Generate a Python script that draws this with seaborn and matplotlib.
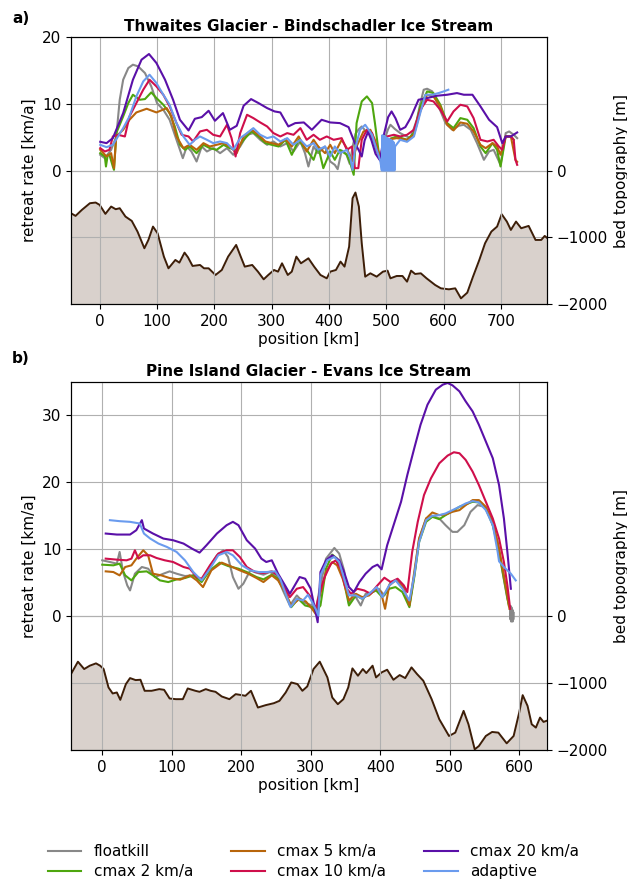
import matplotlib
matplotlib.use("Agg")
import matplotlib.pyplot as plt
import pandas as pd
import seaborn as sns
from matplotlib.lines import Line2D

# ---------------------------------------------------------------- runs
RUNS = ["floatkill", "cmax 2 km/a", "cmax 5 km/a", "cmax 10 km/a",
        "cmax 20 km/a", "adaptive"]
COLORS = ["#888888", "#4ea60e", "#b8650b", "#cf0f4b", "#5a10a8", "#6a9bee"]

# ------------------------------------------- a) Thwaites - Bindschadler
# (position [km], retreat rate [km/a])
A_FLOATKILL = [(1, 2.35), (9, 1.85), (20, 3.1), (29, 5.1), (35, 10.6), (41, 13.6), (50, 15.35),
               (58, 15.85), (67, 15.6), (79, 14.6), (90, 12.6), (100, 10.1), (111, 9.1),
               (122, 7.6), (134, 4.6), (145, 1.85), (152, 3.6), (160, 2.85), (169, 1.35),
               (178, 3.6), (187, 2.85), (198, 3.35), (210, 2.6), (222, 3.35), (233, 2.35),
               (245, 3.6), (257, 5.35), (268, 5.6), (280, 4.6), (292, 3.85), (303, 4.35),
               (315, 3.6), (327, 4.1), (338, 2.85), (350, 4.35), (358, 2.6), (364, 0.6),
               (373, 3.6), (381, 2.6), (393, 3.6), (402, 1.35), (410, 0.85), (415, 0.2),
               (422, 3.0), (430, 2.5), (436, 1.0), (441, 3.5), (446, 5.5), (452, 6.2),
               (457, 6.6), (463, 6.0), (470, 5.5), (477, 4.5), (483, 2.8), (489, 1.8),
               (496, 4.5), (503, 6.2), (507, 6.85), (515, 6.2), (524, 5.6), (533, 5.2),
               (542, 4.85), (553, 7.6), (559, 10.0), (565, 12.1), (571, 12.25), (580, 11.85),
               (591, 9.6), (603, 7.1), (615, 6.1), (626, 6.7), (635, 6.85), (647, 6.1),
               (658, 4.1), (670, 1.6), (679, 2.85), (687, 3.1), (699, 0.85), (708, 5.6),
               (714, 5.85), (722, 5.35), (728, 4.85)]
A_CMAX2 = [(1, 2.6), (9, 2.1), (11, 0.6), (14, 2.3), (17, 2.35), (23, 0.6), (25, 0.1), (29, 5.6),
           (41, 8.1), (50, 10.1), (58, 11.35), (70, 10.6), (79, 10.7), (90, 11.7), (99, 10.85),
           (111, 9.85), (122, 8.6), (131, 6.6), (140, 3.85), (149, 3.1), (157, 3.6), (169, 2.6),
           (181, 3.85), (192, 3.35), (204, 3.1), (216, 3.85), (227, 3.35), (239, 3.1),
           (251, 4.6), (265, 5.85), (277, 5.1), (289, 4.1), (300, 3.85), (312, 3.6),
           (324, 4.6), (335, 2.35), (347, 4.6), (355, 3.6), (361, 3.1), (373, 1.6),
           (381, 3.6), (390, 0.35), (402, 2.85), (410, 1.6), (419, 3.1), (431, 2.35),
           (437, 1.1), (443, -0.65), (448, 7.1), (457, 10.35), (466, 11.1), (475, 10.1),
           (480, 7.1), (486, 3.1), (489, 1.8), (501, 4.6), (518, 5.1), (536, 4.6), (548, 5.6),
           (559, 9.6), (571, 11.85), (582, 11.6), (594, 9.85), (606, 7.1), (617, 6.35),
           (629, 7.85), (641, 7.6), (652, 6.35), (664, 3.6), (673, 2.6), (685, 4.1),
           (693, 3.1), (699, 0.6), (708, 5.1), (717, 5.1), (722, 4.6)]
A_CMAX5 = [(1, 3.1), (12, 2.1), (20, 2.6), (25, 0.35), (29, 5.1), (41, 6.1), (52, 7.6), (64, 8.7),
           (82, 9.25), (99, 8.7), (117, 9.35), (125, 8.1), (134, 5.1), (146, 3.35), (157, 3.85),
           (169, 3.1), (181, 4.1), (192, 3.6), (204, 3.85), (216, 4.1), (227, 3.6), (239, 2.6),
           (251, 5.1), (265, 6.1), (277, 5.35), (289, 4.35), (300, 4.1), (312, 3.85),
           (324, 4.7), (335, 3.6), (347, 5.1), (361, 2.85), (373, 4.6), (381, 3.6), (393, 2.6),
           (402, 3.85), (410, 2.6), (422, 4.6), (431, 3.35), (440, 1.35), (448, 3.6),
           (460, 5.85), (472, 6.1), (480, 4.6), (489, 1.85), (501, 4.6), (518, 4.85),
           (536, 4.6), (548, 5.35), (559, 8.85), (571, 11.35), (582, 11.1), (594, 9.6),
           (606, 6.85), (617, 6.0), (629, 7.2), (641, 7.0), (652, 5.85), (664, 3.85),
           (673, 3.35), (685, 4.1), (693, 3.6), (699, 2.35), (708, 5.1), (717, 5.1),
           (725, 1.6), (728, 1.3)]
A_CMAX10 = [(1, 3.35), (9, 2.85), (17, 3.1), (23, 5.1), (32, 5.35), (44, 5.1), (52, 8.1),
            (64, 10.1), (76, 12.1), (87, 13.6), (99, 12.6), (111, 11.35), (122, 9.6), (134, 7.1),
            (143, 5.35), (155, 5.1), (163, 4.35), (175, 5.85), (187, 6.1), (198, 5.35),
            (210, 5.1), (222, 6.85), (230, 4.85), (237, 2.1), (245, 5.6), (257, 8.35),
            (268, 7.85), (280, 7.2), (292, 6.6), (303, 5.6), (315, 5.1), (327, 5.6),
            (338, 5.35), (350, 6.35), (361, 4.6), (373, 5.35), (384, 4.6), (396, 5.1),
            (408, 4.6), (422, 4.85), (431, 3.1), (440, 3.6), (445, 0.35), (451, 0.35),
            (457, 4.6), (466, 6.1), (475, 5.6), (483, 3.1), (489, 1.6), (501, 5.1), (513, 5.35),
            (524, 5.1), (536, 5.35), (548, 6.1), (559, 9.1), (571, 10.6), (582, 10.35),
            (594, 9.1), (606, 7.35), (617, 8.85), (629, 9.85), (641, 9.6), (652, 7.85),
            (664, 4.6), (676, 4.35), (687, 4.6), (696, 3.6), (702, 3.1), (708, 5.1),
            (717, 5.1), (722, 4.6), (725, 1.6), (728, 0.85)]
A_CMAX20 = [(1, 4.3), (12, 4.1), (23, 4.85), (41, 8.6), (58, 13.6), (73, 16.6), (86, 17.45),
            (99, 16.1), (114, 13.6), (128, 10.6), (140, 7.6), (155, 6.0), (166, 7.75),
            (178, 8.0), (190, 8.95), (201, 7.45), (215, 8.6), (227, 6.1), (239, 6.7),
            (251, 9.7), (264, 10.7), (277, 10.1), (292, 9.35), (305, 8.85), (315, 8.7),
            (329, 6.6), (341, 7.1), (356, 7.2), (370, 6.1), (387, 7.6), (402, 7.2), (419, 7.1),
            (434, 6.5), (445, 4.1), (452, 3.0), (457, 2.1), (462, 4.5), (468, 5.8), (474, 4.5),
            (481, 2.5), (489, 1.5), (496, 5.5), (503, 8.0), (509, 8.85), (516, 7.8),
            (524, 6.1), (533, 6.5), (542, 7.85), (556, 10.6), (571, 10.85), (588, 11.2),
            (606, 11.35), (623, 11.6), (635, 11.35), (650, 11.35), (664, 9.6), (679, 7.6),
            (693, 6.5), (702, 4.1), (708, 5.1), (717, 5.1), (728, 5.7)]
A_ADAPTIVE = [(1, 3.85), (12, 3.5), (23, 3.85), (32, 5.1), (41, 6.35), (52, 8.1), (64, 11.1),
              (76, 13.35), (87, 14.35), (99, 13.1), (111, 11.35), (122, 9.85), (134, 7.1),
              (146, 5.1), (157, 3.85), (166, 4.6), (175, 5.1), (187, 4.6), (198, 4.1),
              (210, 4.35), (222, 4.1), (233, 3.1), (245, 4.85), (257, 5.6), (268, 6.35),
              (280, 5.35), (292, 4.85), (303, 5.1), (315, 4.35), (327, 4.85), (338, 3.85),
              (350, 4.6), (361, 3.6), (373, 4.1), (381, 3.1), (393, 3.6), (402, 2.1),
              (410, 3.6), (419, 2.6), (431, 3.1), (437, 1.85), (441, 0.1), (445, 3.1),
              (454, 6.1), (463, 6.85), (475, 5.35), (483, 3.1), (489, 1.6),
              # flip-flopping front between 492 and 515 km
              (492, 0.0), (493, 5.3), (494, 0.0), (495, 5.2), (496, 0.0), (497, 5.1),
              (498, 0.0), (499, 5.0), (500, 0.0), (501, 4.9), (502, 0.0), (503, 4.8),
              (504, 0.0), (505, 4.7), (506, 0.0), (507, 4.6), (508, 0.0), (509, 4.5),
              (510, 0.0), (511, 4.4), (512, 0.0), (513, 4.2), (514, 0.0), (515, 3.6),
              (524, 4.6), (536, 4.3), (548, 5.1), (559, 8.6), (568, 11.35), (580, 11.35),
              (591, 11.6), (600, 11.85), (608, 12.1)]

# (position [km], bed elevation [m])
A_BED = [(-50, -640), (-42, -680), (-31, -590), (-17, -490), (-7, -480), (0, -515), (10, -650),
         (20, -540), (28, -580), (35, -565), (45, -690), (56, -755), (66, -915), (78, -1165),
         (85, -1040), (93, -840), (101, -940), (112, -1290), (120, -1465), (132, -1340),
         (139, -1380), (148, -1230), (154, -1300), (162, -1430), (175, -1415), (182, -1465),
         (190, -1465), (202, -1565), (213, -1490), (224, -1290), (238, -1115), (246, -1290),
         (253, -1440), (266, -1415), (276, -1515), (286, -1630), (294, -1565), (304, -1490),
         (311, -1515), (318, -1390), (328, -1565), (335, -1515), (343, -1290), (351, -1390),
         (364, -1315), (374, -1440), (385, -1565), (396, -1615), (402, -1515), (412, -1490),
         (420, -1365), (427, -1440), (435, -1140), (441, -415), (446, -330), (452, -540),
         (457, -1090), (463, -1590), (472, -1540), (483, -1590), (494, -1515), (502, -1500),
         (507, -1615), (518, -1580), (528, -1580), (536, -1665), (543, -1500), (550, -1550),
         (560, -1540), (570, -1615), (585, -1715), (595, -1765), (609, -1780), (620, -1765),
         (630, -1915), (641, -1830), (651, -1590), (662, -1340), (672, -1090), (683, -915),
         (693, -840), (701, -655), (710, -765), (717, -890), (726, -765), (735, -865),
         (748, -830), (760, -1040), (770, -1040), (776, -980), (783, -1030)]

# ------------------------------------------------ b) Pine Island - Evans
B_FLOATKILL = [(0, 8.35), (11, 8.1), (21, 7.85), (25, 9.6), (30, 6.6), (36, 4.6), (40, 3.85),
               (47, 6.35), (57, 7.35), (66, 7.1), (76, 5.85), (88, 6.35), (97, 6.7), (107, 6.35),
               (119, 6.0), (131, 6.1), (143, 5.35), (153, 7.1), (165, 9.1), (174, 9.85),
               (181, 8.85), (188, 5.85), (196, 4.1), (203, 4.85), (213, 6.85), (222, 6.5),
               (232, 6.2), (241, 6.6), (251, 6.1), (260, 3.85), (270, 1.6), (280, 3.1),
               (289, 2.1), (302, 1.6), (307, 0.7), (312, 3.6), (322, 8.6), (334, 10.2),
               (341, 9.35), (348, 6.85), (355, 1.85), (362, 3.35), (372, 1.6), (379, 3.35),
               (389, 3.6), (398, 4.1), (406, 3.1), (415, 5.1), (425, 5.35), (434, 4.1),
               (442, 1.6), (449, 6.1), (456, 11.6), (466, 14.6), (475, 15.0), (485, 14.6),
               (494, 13.6), (504, 12.6), (511, 12.6), (521, 13.6), (530, 15.6), (540, 16.6),
               (550, 16.35), (559, 14.6), (569, 11.1), (576, 6.6), (583, 2.6), (587, 1.1),
               (587.5, -0.5), (588, 1.5), (588.5, -0.8), (589, 1.3), (589.5, -0.6),
               (590, 1.0), (590.5, -0.8), (591, 0.8), (591.5, -0.5), (592, 0.5)]
B_CMAX2 = [(0, 7.7), (16, 7.6), (25, 7.85), (33, 6.1), (42, 5.35), (52, 6.6), (64, 6.7),
           (73, 6.1), (83, 5.35), (95, 5.1), (107, 5.5), (119, 5.7), (131, 6.1), (143, 5.1),
           (155, 6.85), (169, 8.0), (181, 7.5), (196, 7.1), (208, 6.6), (222, 5.85), (232, 5.5),
           (244, 6.2), (253, 5.6), (263, 3.6), (272, 1.35), (282, 2.6), (292, 1.6), (302, 1.35),
           (307, 0.6), (314, 1.6), (322, 7.1), (331, 9.2), (338, 8.6), (346, 6.1), (355, 1.6),
           (365, 3.1), (374, 2.6), (384, 3.35), (394, 3.85), (403, 2.85), (413, 4.1),
           (422, 4.35), (432, 3.6), (442, 1.35), (449, 5.85), (456, 11.1), (466, 14.1),
           (475, 14.85), (485, 14.5), (494, 15.1), (504, 15.7), (514, 16.35), (523, 16.7),
           (533, 17.1), (542, 17.0), (552, 16.1), (562, 13.6), (571, 9.6), (578, 5.6),
           (585, 1.6)]
B_CMAX5 = [(5, 6.7), (16, 6.6), (25, 6.1), (33, 7.35), (42, 7.6), (49, 8.6), (59, 9.85),
           (66, 9.1), (73, 6.35), (85, 6.1), (97, 5.7), (112, 5.45), (126, 6.1), (136, 5.35),
           (145, 4.35), (157, 6.85), (172, 8.0), (184, 7.5), (198, 6.85), (210, 6.35),
           (222, 5.7), (232, 5.1), (244, 6.1), (253, 5.35), (263, 3.6), (272, 1.6), (284, 2.6),
           (293, 2.2), (302, 1.1), (307, 0.35), (312, 2.6), (322, 6.6), (331, 8.1), (338, 7.6),
           (346, 5.6), (355, 2.35), (365, 3.35), (374, 2.85), (384, 3.1), (394, 4.1),
           (401, 3.6), (407, 1.1), (413, 4.6), (422, 5.35), (432, 4.6), (442, 1.6), (449, 6.6),
           (456, 11.6), (466, 14.6), (475, 15.5), (485, 15.1), (494, 15.2), (504, 15.6),
           (514, 15.85), (523, 16.6), (533, 17.35), (542, 17.35), (552, 16.35), (562, 14.1),
           (571, 10.1), (578, 6.1), (583, 3.1), (586, 1.1)]
B_CMAX10 = [(5, 8.6), (21, 8.45), (35, 8.35), (42, 8.6), (47, 9.85), (52, 8.6), (59, 9.1),
            (69, 9.1), (78, 8.7), (90, 8.35), (102, 8.1), (117, 7.35), (126, 7.1), (136, 5.85),
            (143, 5.6), (155, 7.6), (167, 9.35), (179, 9.85), (188, 9.85), (198, 8.85),
            (208, 7.35), (220, 6.6), (232, 6.45), (244, 6.7), (253, 6.1), (263, 4.1),
            (270, 2.85), (280, 4.1), (289, 4.35), (299, 3.0), (307, 1.1), (312, 3.1),
            (319, 5.6), (329, 7.85), (336, 8.35), (343, 7.1), (350, 4.35), (358, 3.35),
            (367, 4.1), (377, 3.85), (386, 3.35), (396, 4.6), (406, 5.75), (415, 5.1),
            (425, 5.6), (434, 4.6), (439, 3.6), (446, 9.6), (454, 14.1), (463, 18.1),
            (473, 20.6), (485, 22.85), (497, 24.0), (506, 24.5), (514, 24.35), (523, 23.35),
            (533, 21.6), (542, 19.6), (552, 17.1), (562, 14.6), (571, 11.6), (578, 8.1),
            (583, 4.6), (587, 1.1)]
B_CMAX20 = [(5, 12.35), (21, 12.2), (40, 12.2), (49, 12.85), (57, 14.35), (60, 13.1),
            (73, 12.35), (88, 11.6), (102, 11.35), (117, 10.85), (129, 10.1), (140, 9.5),
            (150, 10.6), (165, 12.35), (179, 13.6), (188, 14.1), (196, 13.6), (208, 11.35),
            (220, 10.1), (229, 8.6), (236, 8.1), (244, 8.35), (253, 6.35), (263, 4.6),
            (270, 3.35), (277, 4.6), (284, 5.85), (292, 5.6), (300, 4.1), (307, 0.6),
            (310, -0.9), (314, 6.6), (322, 8.35), (331, 9.1), (341, 8.35), (348, 6.6),
            (355, 4.35), (362, 3.6), (370, 5.1), (379, 6.35), (389, 7.35), (396, 7.7),
            (402, 7.0), (410, 10.6), (420, 13.85), (430, 17.1), (439, 21.1), (449, 25.1),
            (458, 28.6), (468, 31.6), (480, 33.85), (490, 34.6), (497, 34.85), (504, 34.5),
            (514, 33.6), (523, 32.1), (533, 30.6), (542, 28.6), (552, 26.1), (562, 23.6),
            (571, 19.6), (578, 14.6), (583, 9.6), (588, 4.1)]
B_ADAPTIVE = [(11, 14.35), (25, 14.2), (40, 14.1), (54, 13.85), (60, 12.35), (69, 11.6),
              (81, 10.85), (93, 10.35), (107, 9.6), (119, 8.35), (131, 6.6), (143, 5.35),
              (155, 7.1), (167, 9.1), (179, 9.6), (188, 9.1), (201, 7.6), (213, 6.85),
              (225, 6.6), (236, 6.6), (249, 6.7), (256, 5.6), (263, 3.6), (271, 1.35),
              (280, 2.6), (289, 2.35), (296, 3.2), (302, 2.1), (307, 1.1), (311, 0.1),
              (314, 6.1), (324, 8.35), (334, 8.85), (341, 8.1), (348, 5.6), (355, 3.1),
              (365, 3.1), (374, 2.6), (384, 3.35), (395, 4.35), (403, 2.85), (413, 4.6),
              (422, 5.35), (432, 4.1), (442, 2.35), (449, 6.1), (456, 11.1), (466, 14.35),
              (475, 15.0), (485, 15.1), (494, 15.35), (504, 15.85), (514, 16.35), (523, 16.85),
              (533, 17.2), (542, 17.0), (552, 15.85), (562, 13.6), (569, 9.6), (571, 8.2),
              (578, 7.35), (588, 6.35), (595, 5.35)]

B_BED = [(-45, -865), (-35, -680), (-26, -790), (-18, -740), (-9, -705), (-3, -740), (2, -790),
         (9, -1065), (15, -1155), (21, -1140), (26, -1250), (34, -1015), (40, -925), (48, -955),
         (55, -950), (61, -1115), (71, -1115), (82, -1090), (89, -1100), (97, -1230),
         (106, -1240), (116, -1240), (123, -1080), (134, -1115), (140, -1130), (149, -1090),
         (156, -1115), (163, -1130), (172, -1200), (183, -1240), (192, -1165), (201, -1180),
         (206, -1190), (214, -1115), (224, -1365), (235, -1330), (247, -1300), (255, -1265),
         (264, -1140), (272, -990), (281, -1015), (288, -1115), (295, -1050), (304, -790),
         (313, -680), (324, -915), (331, -1215), (339, -1315), (347, -1240), (354, -1065),
         (360, -780), (368, -890), (375, -790), (380, -850), (389, -740), (394, -915),
         (402, -840), (410, -800), (419, -950), (428, -880), (436, -925), (445, -765),
         (453, -865), (462, -965), (474, -1240), (485, -1540), (499, -1790), (508, -1740),
         (520, -1415), (527, -1615), (536, -1990), (542, -1940), (552, -1790), (561, -1730),
         (570, -1740), (582, -1900), (592, -1790), (600, -1440), (605, -1180), (612, -1340),
         (618, -1615), (624, -1665), (630, -1515), (635, -1580), (639, -1565)]

PANELS = [
    dict(tag="a)", title="Thwaites Glacier - Bindschadler Ice Stream",
         runs=[A_FLOATKILL, A_CMAX2, A_CMAX5, A_CMAX10, A_CMAX20, A_ADAPTIVE], bed=A_BED,
         xlim=(-50, 780), xticks=range(0, 701, 100), ylim=(-20, 20), yticks=[0, 10, 20],
         bedlim=(-2000, 2000), rect=[0.1132, 0.6557, 0.7592, 0.3024], tag_y=0.979),
    dict(tag="b)", title="Pine Island Glacier - Evans Ice Stream",
         runs=[B_FLOATKILL, B_CMAX2, B_CMAX5, B_CMAX10, B_CMAX20, B_ADAPTIVE], bed=B_BED,
         xlim=(-45, 640), xticks=range(0, 601, 100), ylim=(-20, 35), yticks=[0, 10, 20, 30],
         bedlim=(-2000, 3500), rect=[0.1132, 0.1506, 0.7592, 0.4168], tag_y=0.594),
]

FS = 11
GRID = dict(color="#b0b0b0", linewidth=0.8)
BED_LINE = "#3d1e08"
BED_FILL = "#d9d1cc"
palette = dict(zip(RUNS, COLORS))

fig = plt.figure(figsize=(6.27, 8.83), dpi=100)

for p in PANELS:
    ax = fig.add_axes(p["rect"])
    ax2 = ax.twinx()

    # bed topography on the right-hand axis, shaded down to the frame
    bed = pd.DataFrame(p["bed"], columns=["position", "bed"])
    ax2.fill_between(bed["position"], bed["bed"], p["bedlim"][0] - 500,
                     color=BED_FILL, linewidth=0, zorder=1)
    sns.lineplot(data=bed, x="position", y="bed", ax=ax2, color=BED_LINE,
                 linewidth=1.4, estimator=None, sort=False, zorder=2)
    ax2.set_ylim(*p["bedlim"])
    ax2.set_yticks([0, -1000, -2000])
    ax2.grid(axis="y", **GRID)
    ax2.set_ylabel("bed topography [m]", fontsize=FS)
    ax2.tick_params(labelsize=FS)

    # retreat rates of the six calving setups on top
    frames = []
    for name, series in zip(RUNS, p["runs"]):
        d = pd.DataFrame(series, columns=["position", "rate"])
        d["run"] = name
        frames.append(d)
    rates = pd.concat(frames, ignore_index=True)
    ax.set_zorder(ax2.get_zorder() + 1)
    ax.patch.set_visible(False)
    sns.lineplot(data=rates, x="position", y="rate", hue="run", hue_order=RUNS,
                 palette=palette, estimator=None, sort=False, linewidth=1.5,
                 ax=ax, legend=False)
    ax.set_xlim(*p["xlim"])
    ax.set_xticks(list(p["xticks"]))
    ax.set_ylim(*p["ylim"])
    ax.set_yticks(p["yticks"])
    ax.grid(True, **GRID)
    ax.set_axisbelow(True)
    ax.set_xlabel("position [km]", fontsize=FS, labelpad=2)
    ax.set_ylabel("retreat rate [km/a]", fontsize=FS)
    ax.tick_params(labelsize=FS)
    ax.set_title(p["title"], fontsize=FS, fontweight="bold", pad=4)
    fig.text(0.019, p["tag_y"], p["tag"], fontsize=FS, fontweight="bold", va="center")

handles = [Line2D([], [], color=c, linewidth=1.5) for c in COLORS]
fig.legend(handles, RUNS, loc="center", bbox_to_anchor=(0.5, 0.024), ncol=3,
           frameon=False, fontsize=FS, handlelength=2.2, columnspacing=2.5,
           labelspacing=0.35)

fig.savefig("out.png", dpi=100)
